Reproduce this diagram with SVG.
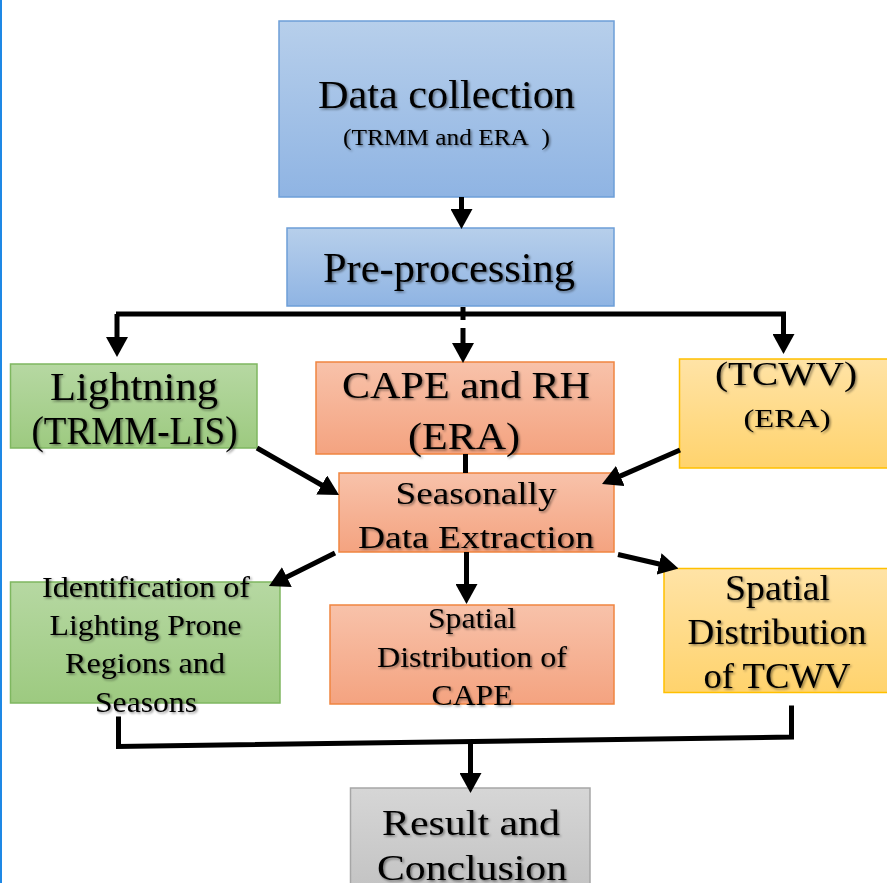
<svg xmlns="http://www.w3.org/2000/svg" width="887" height="883" viewBox="0 0 887 883">
<style>
.t{font-family:"Liberation Serif","Times New Roman",serif;fill:#000;text-anchor:middle;filter:url(#sh)}
.box{stroke-width:1.5}
.blue{fill:url(#gBlue);stroke:#6d9fd8}
.green{fill:url(#gGreen);stroke:#7fb760}
.salmon{fill:url(#gSalmon);stroke:#f08540}
.yellow{fill:url(#gYellow);stroke:#ffc000}
.gray{fill:url(#gGray);stroke:#a6a6a6}
.c{stroke:#000;stroke-width:5;fill:none}
.ca{stroke:#000;stroke-width:5;fill:none;marker-end:url(#ah)}
</style>
<defs>
<linearGradient id="gBlue" x1="0" y1="0" x2="0" y2="1"><stop offset="0" stop-color="#b7cfeb"/><stop offset="1" stop-color="#8fb4e3"/></linearGradient>
<linearGradient id="gGreen" x1="0" y1="0" x2="0" y2="1"><stop offset="0" stop-color="#b6d8a2"/><stop offset="1" stop-color="#9dca80"/></linearGradient>
<linearGradient id="gSalmon" x1="0" y1="0" x2="0" y2="1"><stop offset="0" stop-color="#f8c2aa"/><stop offset="1" stop-color="#f4a380"/></linearGradient>
<linearGradient id="gYellow" x1="0" y1="0" x2="0" y2="1"><stop offset="0" stop-color="#ffe3a6"/><stop offset="1" stop-color="#ffd36d"/></linearGradient>
<linearGradient id="gGray" x1="0" y1="0" x2="0" y2="1"><stop offset="0" stop-color="#d6d6d6"/><stop offset="1" stop-color="#c3c3c3"/></linearGradient>
<filter id="sh" x="-10%" y="-30%" width="120%" height="160%"><feDropShadow dx="1.5" dy="1.5" stdDeviation="1.2" flood-color="#000" flood-opacity="0.45"/></filter>
<marker id="ah" markerUnits="userSpaceOnUse" markerWidth="20" markerHeight="22" refX="9" refY="11" orient="auto" viewBox="0 0 20 22"><path d="M0,0 L20,11 L0,22 z" fill="#000"/></marker>
</defs>
<rect x="0" y="0" width="887" height="883" fill="#fff"/>
<rect x="0" y="0" width="2" height="883" fill="#1e88e5"/>

<g id="data-collection">
<rect class="box blue" x="279" y="21" width="335" height="176"/>
<text class="t" x="446.5" y="108" font-size="40" textLength="257" lengthAdjust="spacingAndGlyphs">Data collection</text>
<text class="t" x="446.5" y="145" font-size="23" textLength="207" lengthAdjust="spacingAndGlyphs">(TRMM and ERA&#160;&#160;)</text>
</g>

<g id="pre-processing">
<rect class="box blue" x="287" y="228" width="327" height="78"/>
<text class="t" x="449" y="282" font-size="42" textLength="252" lengthAdjust="spacingAndGlyphs">Pre-processing</text>
</g>

<g id="lightning">
<rect class="box green" x="10.5" y="364" width="246.5" height="84"/>
<text class="t" x="134" y="400" font-size="40" textLength="168" lengthAdjust="spacingAndGlyphs">Lightning</text>
<text class="t" x="134.5" y="444" font-size="40" textLength="206" lengthAdjust="spacingAndGlyphs">(TRMM-LIS)</text>
</g>

<g id="cape-rh">
<rect class="box salmon" x="316" y="362" width="298" height="92"/>
<text class="t" x="466" y="398" font-size="38" textLength="248" lengthAdjust="spacingAndGlyphs">CAPE and RH</text>
<text class="t" x="464" y="449" font-size="38" textLength="112" lengthAdjust="spacingAndGlyphs">(ERA)</text>
</g>

<g id="tcwv">
<rect class="box yellow" x="679.5" y="359" width="212" height="109"/>
<text class="t" x="786" y="385" font-size="33" textLength="142" lengthAdjust="spacingAndGlyphs">(TCWV)</text>
<text class="t" x="787" y="427" font-size="25" textLength="87" lengthAdjust="spacingAndGlyphs">(ERA)</text>
</g>

<g id="seasonal-extraction">
<rect class="box salmon" x="339" y="473" width="275" height="79"/>
<text class="t" x="476" y="504" font-size="31" textLength="161" lengthAdjust="spacingAndGlyphs">Seasonally</text>
<text class="t" x="476" y="548" font-size="31" textLength="236" lengthAdjust="spacingAndGlyphs">Data Extraction</text>
</g>

<g id="identification">
<rect class="box green" x="10.5" y="582" width="269.5" height="121"/>
<text class="t" x="146" y="597" font-size="30" textLength="208" lengthAdjust="spacingAndGlyphs">Identification of</text>
<text class="t" x="145.5" y="635" font-size="30" textLength="192" lengthAdjust="spacingAndGlyphs">Lighting Prone</text>
<text class="t" x="145" y="673" font-size="30" textLength="160" lengthAdjust="spacingAndGlyphs">Regions and</text>
<text class="t" x="146" y="712" font-size="30" textLength="102" lengthAdjust="spacingAndGlyphs">Seasons</text>
</g>

<g id="spatial-cape">
<rect class="box salmon" x="330" y="605" width="284" height="99"/>
<text class="t" x="472" y="628" font-size="30" textLength="88" lengthAdjust="spacingAndGlyphs">Spatial</text>
<text class="t" x="472" y="667" font-size="30" textLength="190" lengthAdjust="spacingAndGlyphs">Distribution of</text>
<text class="t" x="472" y="705" font-size="30" textLength="81" lengthAdjust="spacingAndGlyphs">CAPE</text>
</g>

<g id="spatial-tcwv">
<rect class="box yellow" x="664" y="568.5" width="228" height="124"/>
<text class="t" x="777.5" y="600" font-size="36" textLength="105" lengthAdjust="spacingAndGlyphs">Spatial</text>
<text class="t" x="777" y="644" font-size="36" textLength="179" lengthAdjust="spacingAndGlyphs">Distribution</text>
<text class="t" x="777" y="688" font-size="36" textLength="147" lengthAdjust="spacingAndGlyphs">of TCWV</text>
</g>

<g id="result">
<rect class="box gray" x="350.5" y="788" width="239.5" height="102"/>
<text class="t" x="471" y="835" font-size="35" textLength="178" lengthAdjust="spacingAndGlyphs">Result and</text>
<text class="t" x="472" y="880" font-size="35" textLength="190" lengthAdjust="spacingAndGlyphs">Conclusion</text>
</g>

<g id="connectors">
<line class="ca" x1="461.5" y1="197" x2="461.5" y2="218"/>
<line class="c" x1="116" y1="314" x2="786" y2="314"/>
<line class="ca" x1="117" y1="314" x2="117" y2="346"/>
<line class="c" x1="463" y1="307" x2="463" y2="320"/>
<line class="ca" x1="463" y1="328" x2="463" y2="352"/>
<line class="ca" x1="783.5" y1="314" x2="783.5" y2="343"/>
<line class="c" x1="465.5" y1="454" x2="465.5" y2="473" stroke-width="6"/>
<line class="ca" x1="257" y1="448" x2="329.5" y2="489.5"/>
<line class="ca" x1="680" y1="450" x2="612.1" y2="479.6"/>
<line class="ca" x1="335" y1="553" x2="278.8" y2="581.1"/>
<line class="ca" x1="466.5" y1="552" x2="466.5" y2="593" stroke-width="6"/>
<line class="ca" x1="618" y1="554.5" x2="667.8" y2="566"/>
<polyline class="c" stroke-width="6" points="118.5,716.5 118.5,746.5 791.5,737 791.5,705.5"/>
<line class="ca" x1="470.5" y1="742" x2="470.5" y2="782"/>
</g>
</svg>
